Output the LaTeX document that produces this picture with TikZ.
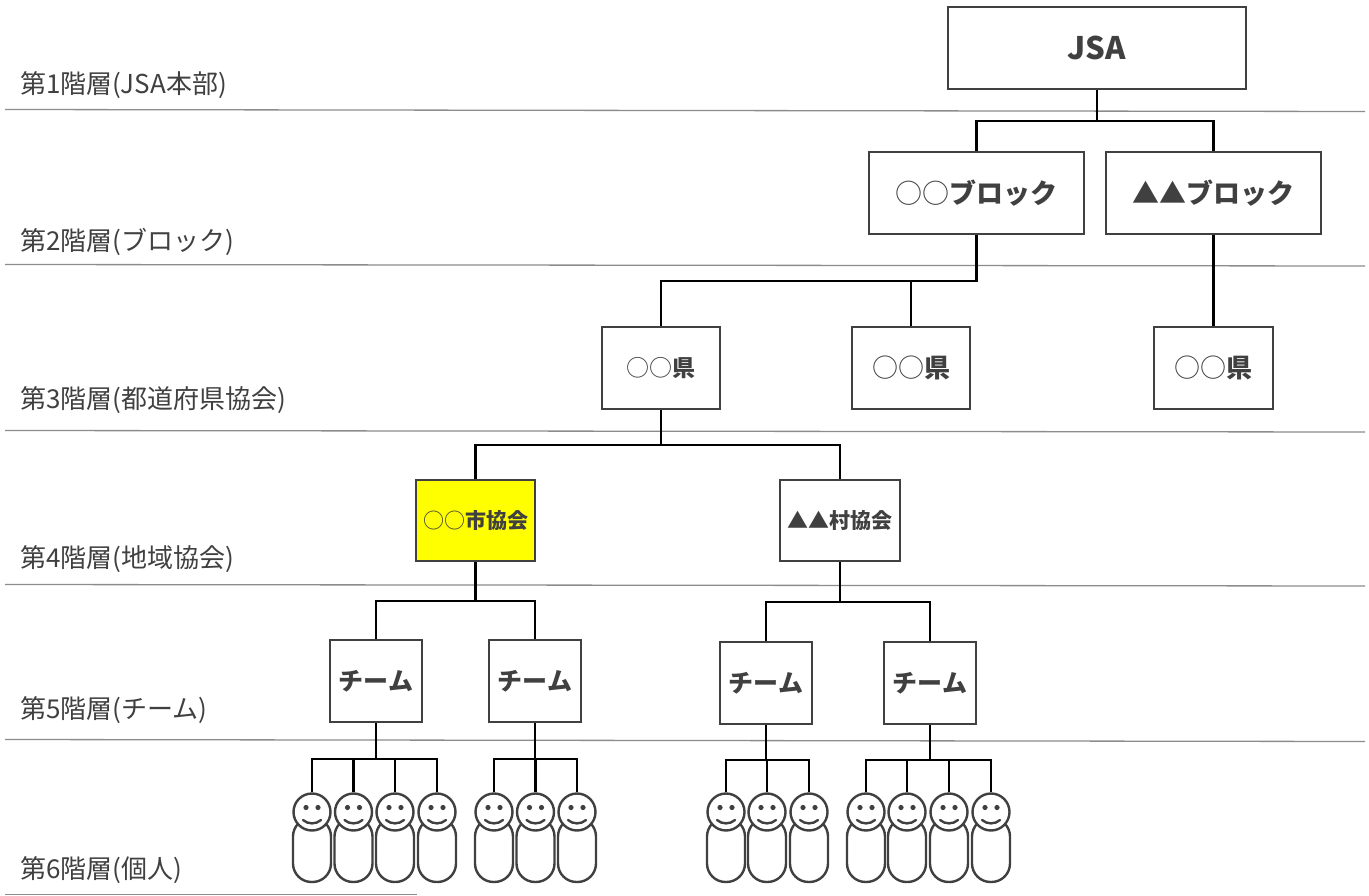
\documentclass[tikz,border=0pt]{standalone}
\usepackage{fontspec}
\setmainfont{Noto Sans CJK JP}
\usepackage{tikz}
\usepackage{color}
\definecolor{Ink}{RGB}{64,64,64}
\definecolor{Rule}{RGB}{140,140,140}
\definecolor{Mark}{RGB}{255,255,0}

\tikzset{
  org/.style={draw=Ink, line width=2.5pt, text=Ink, inner sep=0pt},
  conn/.style={line width=2.8pt},
  layer/.style={anchor=west, text=Ink, inner sep=0pt, font=\fontsize{26}{26}\selectfont},
  sep/.style={draw=Rule, line width=1.3pt},
  person/.style={draw=Ink, line width=2.4pt},
  head/.style={circle, draw=Ink, line width=2.4pt, fill=white, minimum size=37, inner sep=0pt},
}

\begin{document}
\begin{tikzpicture}[x=1pt, y=-1pt]
    \path[use as bounding box, fill=white] (0,0) rectangle (1369,896);

    % layer rules
    \draw[sep] (5,109.5) -- (1365,111.5);
    \draw[sep] (5,264.5) -- (1365,266);
    \draw[sep] (5,430.5) -- (1365,432);
    \draw[sep] (5,584.5) -- (1365,586);
    \draw[sep] (5,739.5) -- (1365,741.5);
    \draw[sep] (5,894.5) -- (417,894.5);

    \node[layer] (lay1) at (20, 85) {第1階層(JSA本部)};
    \node[layer] (lay2) at (20,242) {第2階層(ブロック)};
    \node[layer] (lay3) at (20,400) {第3階層(都道府県協会)};
    \node[layer] (lay4) at (20,559) {第4階層(地域協会)};
    \node[layer] (lay5) at (20,710) {第5階層(チーム)};
    \node[layer] (lay6) at (20,870) {第6階層(個人)};

    \node[org, minimum width=298, minimum height=82, font=\bfseries\fontsize{31}{31}\selectfont] (jsa)   at (1097,  48) {JSA};
    \node[org, minimum width=215, minimum height=82, font=\bfseries\fontsize{27}{27}\selectfont] (blkA)  at ( 976.5,193) {{\mdseries ○○}ブロック};
    \node[org, minimum width=215, minimum height=82, font=\bfseries\fontsize{27}{27}\selectfont] (blkB)  at (1213.5,193) {▲▲ブロック};
    \node[org, minimum width=118, minimum height=82, font=\bfseries\fontsize{23}{23}\selectfont] (prefA) at ( 661, 368) {{\mdseries ○○}県};
    \node[org, minimum width=118, minimum height=82, font=\bfseries\fontsize{26}{26}\selectfont] (prefB) at ( 911, 368) {{\mdseries ○○}県};
    \node[org, minimum width=119, minimum height=82, font=\bfseries\fontsize{26}{26}\selectfont] (prefC) at (1213.5,368) {{\mdseries ○○}県};
    \node[org, minimum width=119, minimum height=81, font=\bfseries\fontsize{21}{21}\selectfont, fill=Mark] (cityA) at (475.5,520.5) {{\mdseries ○○}市協会};
    \node[org, minimum width=120, minimum height=81, font=\bfseries\fontsize{21}{21}\selectfont] (villB) at ( 840, 520.5) {▲▲村協会};
    \node[org, minimum width=92, minimum height=82, font=\bfseries\fontsize{25}{25}\selectfont] (teamA) at (376, 681) {チーム};
    \node[org, minimum width=92, minimum height=82, font=\bfseries\fontsize{25}{25}\selectfont] (teamB) at (535, 681) {チーム};
    \node[org, minimum width=92, minimum height=82, font=\bfseries\fontsize{25}{25}\selectfont] (teamC) at (766, 683) {チーム};
    \node[org, minimum width=92, minimum height=82, font=\bfseries\fontsize{25}{25}\selectfont] (teamD) at (930, 683) {チーム};

    % members
    \foreach \x/\n in {312/A1, 353.5/A2, 395/A3, 437/A4, 494/B1, 535.5/B2, 577/B3,
                       726/C1, 767/C2, 809/C3, 866/D1, 907/D2, 949/D3, 991/D4} {
      \draw[person, rounded corners=18.5] (\x-19,818) rectangle (\x+19,882);
      \node[head] (p\n) at (\x,812) {};
      \fill[Ink] (\x-6,807.5) circle (2.6);
      \fill[Ink] (\x+6,807.5) circle (2.6);
      \draw[person, line cap=round] (\x-9,820) .. controls (\x-4,824.5) and (\x+4,824.5) .. (\x+9,820);
    }

    \coordinate (busA) at (1097,121);
    \coordinate (busB) at (976.5,281);
    \coordinate (busC) at (661,445);
    \coordinate (busD) at (475.5,601);
    \coordinate (busE) at (840,602);
    \coordinate (busF) at (376,759);
    \coordinate (busG) at (535,759);
    \coordinate (busH) at (766,760);
    \coordinate (busI) at (930,760);

    \draw[conn] (jsa) -- (busA) -| (blkA);
    \draw[conn] (busA) -| (blkB);
    \draw[conn] (blkA) -- (busB) -| (prefA);
    \draw[conn] (busB) -| (prefB);
    \draw[conn] (blkB) -- (prefC);
    \draw[conn] (prefA) -- (busC) -| (cityA);
    \draw[conn] (busC) -| (villB);
    \draw[conn] (cityA) -- (busD) -| (teamA);
    \draw[conn] (busD) -| (teamB);
    \draw[conn] (villB) -- (busE) -| (teamC);
    \draw[conn] (busE) -| (teamD);

    \draw[conn] (teamA) -- (busF);
    \foreach \n in {A1,A2,A3,A4} \draw[conn] (busF) -| (p\n);
    \draw[conn] (teamB) -- (busG);
    \foreach \n in {B1,B2,B3} \draw[conn] (busG) -| (p\n);
    \draw[conn] (teamC) -- (busH);
    \foreach \n in {C1,C2,C3} \draw[conn] (busH) -| (p\n);
    \draw[conn] (teamD) -- (busI);
    \foreach \n in {D1,D2,D3,D4} \draw[conn] (busI) -| (p\n);
  \end{tikzpicture}
\end{document}
